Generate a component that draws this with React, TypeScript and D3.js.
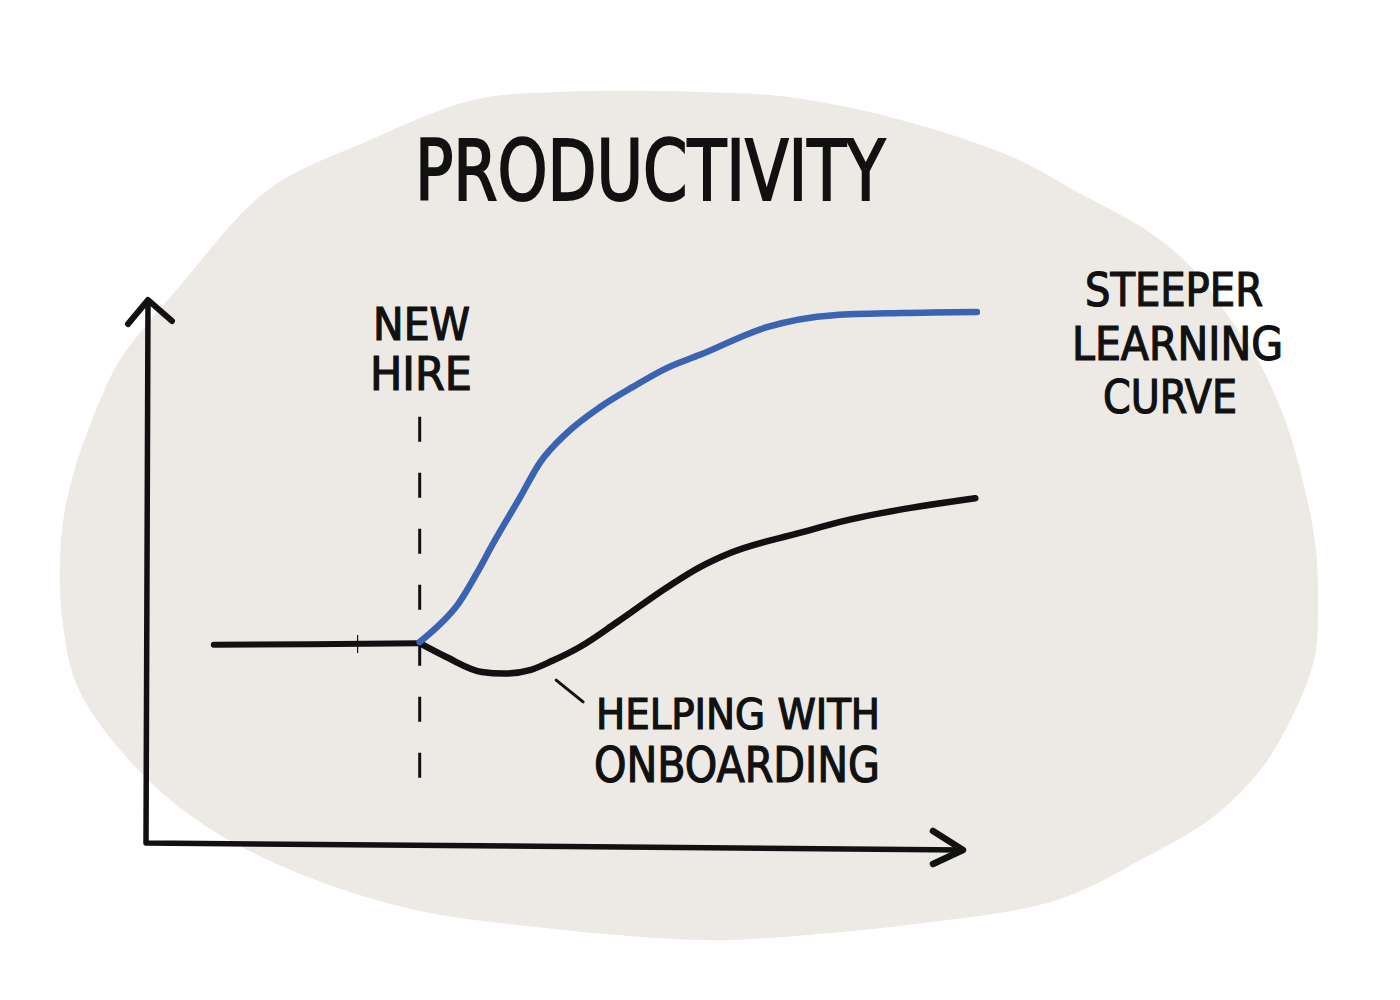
import React from "react";
import * as d3 from "d3";

// ---- data (time on x, productivity on y, both 0..100 units) ----
const baselineX = [8.3, 20, 33.5];
const baselineY = [36.5, 36.6, 36.8];

const helpX = [33.5, 36.7, 41.1, 43.8, 47.1, 49.8, 53.1, 57.6, 63.8, 67.8, 71.5, 80.0, 86.0, 92.0, 101.5];
const helpY = [36.8, 34.3, 31.5, 31.2, 31.9, 33.6, 36.1, 40.6, 47.1, 50.8, 53.4, 57.1, 59.5, 61.3, 63.5];

const steepX = [33.5, 35.5, 38.2, 40.5, 42.5, 45.8, 48.2, 51.5, 55.6, 59.6, 63.8, 67.8, 76.0, 84.2, 92.3, 101.7];
const steepY = [37.0, 39.6, 44.0, 49.7, 55.2, 63.7, 70.0, 75.5, 80.3, 84.0, 87.5, 89.9, 95.0, 97.2, 97.6, 97.8];

const newHireX = 33.5;
const newHireSpan = [9.8, 78.5];

const titleText = "PRODUCTIVITY";
const newHireLabel = ["NEW", "HIRE"];
const steeperLabel = ["STEEPER", "LEARNING", "CURVE"];
const helpingLabel = ["HELPING WITH", "ONBOARDING"];

// background blob outline (decoration, pixels)
const BLOB: [number, number][] = [
  [558, 92], [700, 92], [789, 97], [901, 120], [1012, 157], [1079, 193], [1146, 230],
  [1191, 267], [1236, 327], [1258, 360], [1285, 420], [1305, 490], [1316, 550],
  [1318, 610], [1316, 650], [1307, 683], [1280, 740], [1258, 773], [1213, 817],
  [1146, 857], [1057, 900], [923, 923], [767, 938], [700, 940], [536, 927],
  [402, 907], [268, 860], [179, 807], [112, 740], [76, 683], [62, 617], [60, 560],
  [64, 515], [76, 465], [96, 410], [120, 360], [179, 287], [268, 190],
  [370, 140], [473, 100],
];

const FONT = "'Liberation Sans Narrow', 'DejaVu Sans Condensed', 'Roboto', sans-serif";
const INK = "#111";
const BLUE = "#3a63b1";

export default function App() {
  const x = d3.scaleLinear().domain([0, 100]).range([146, 963]);
  const y = d3.scaleLinear().domain([0, 100]).range([843, 300]);

  const zip = (xs: number[], ys: number[]) => xs.map((v, i) => [v, ys[i]] as [number, number]);
  const line = d3
    .line<[number, number]>()
    .x((d) => x(d[0]))
    .y((d) => y(d[1]))
    .curve(d3.curveMonotoneX);

  const blobPath = d3.line().curve(d3.curveCatmullRomClosed.alpha(0.5))(BLOB) || "";

  const x0 = x(0), y0 = y(0), yTop = y(100), xEnd = x(100);

  return (
    <svg
      width={1400}
      height={1000}
      style={{ position: "absolute", left: 0, top: 0, background: "#fff" }}
    >
      <path d={blobPath} fill="#edeae5" />

      {/* axes */}
      <path
        d={`M${x0 + 2},${yTop} L${x0},${y0} L${xEnd},${y0 + 7}`}
        fill="none"
        stroke={INK}
        strokeWidth={5.5}
        strokeLinejoin="round"
      />
      <path
        d={`M${x0 - 18},${yTop + 24} L${x0 + 2},${yTop} L${x0 + 26},${yTop + 21}`}
        fill="none"
        stroke={INK}
        strokeWidth={6}
        strokeLinecap="round"
        strokeLinejoin="round"
      />
      <path
        d={`M${xEnd - 30},${y0 - 12} L${xEnd},${y0 + 7} L${xEnd - 30},${y0 + 21}`}
        fill="none"
        stroke={INK}
        strokeWidth={6.5}
        strokeLinecap="round"
        strokeLinejoin="round"
      />

      {/* new hire dashed line */}
      <line
        x1={x(newHireX)}
        x2={x(newHireX)}
        y1={y(newHireSpan[1])}
        y2={y(newHireSpan[0])}
        stroke={INK}
        strokeWidth={3}
        strokeDasharray="25 31"
      />

      {/* small stray tick on baseline */}
      <line x1={x(25.9)} x2={x(25.9)} y1={y(38.3)} y2={y(35)} stroke={INK} strokeWidth={1.2} />

      {/* curves */}
      <path d={line(zip(baselineX, baselineY)) || ""} fill="none" stroke={INK} strokeWidth={6} strokeLinecap="round" />
      <path d={line(zip(helpX, helpY)) || ""} fill="none" stroke={INK} strokeWidth={6.5} strokeLinecap="round" />
      <path d={line(zip(steepX, steepY)) || ""} fill="none" stroke={BLUE} strokeWidth={6.5} strokeLinecap="round" />

      {/* leader for helping label */}
      <line x1={x(50.2)} y1={y(30.0)} x2={x(53.5)} y2={y(26.0)} stroke={INK} strokeWidth={3} strokeLinecap="round" />

      {/* texts */}
      <g fontFamily={FONT} fill={INK} stroke={INK} strokeWidth={1.2}>
        <text x={415} y={200} fontSize={84} textLength={470} lengthAdjust="spacingAndGlyphs" strokeWidth={2}>
          {titleText}
        </text>
        <text x={373} y={340} fontSize={44} textLength={97} lengthAdjust="spacingAndGlyphs">
          {newHireLabel[0]}
        </text>
        <text x={370} y={390} fontSize={46} textLength={102} lengthAdjust="spacingAndGlyphs">
          {newHireLabel[1]}
        </text>
        <text x={1085} y={306} fontSize={46} textLength={178} lengthAdjust="spacingAndGlyphs">
          {steeperLabel[0]}
        </text>
        <text x={1072} y={360} fontSize={46} textLength={211} lengthAdjust="spacingAndGlyphs">
          {steeperLabel[1]}
        </text>
        <text x={1103} y={413} fontSize={46} textLength={134} lengthAdjust="spacingAndGlyphs">
          {steeperLabel[2]}
        </text>
        <text x={596} y={729} fontSize={42} textLength={284} lengthAdjust="spacingAndGlyphs">
          {helpingLabel[0]}
        </text>
        <text x={594} y={782} fontSize={50} textLength={286} lengthAdjust="spacingAndGlyphs">
          {helpingLabel[1]}
        </text>
      </g>
    </svg>
  );
}
